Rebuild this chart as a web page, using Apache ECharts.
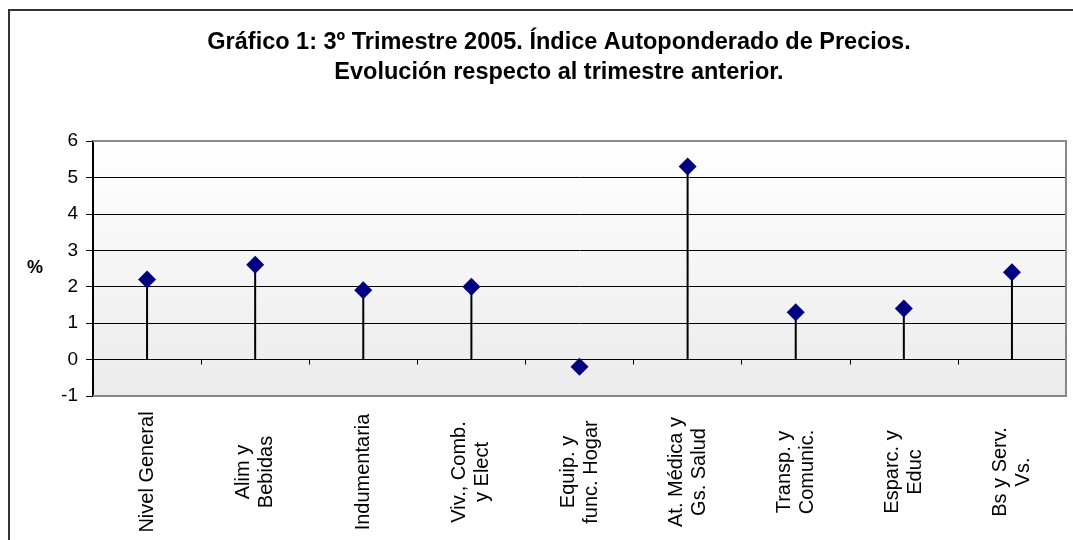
<!DOCTYPE html>
<html>
<head>
<meta charset="utf-8">
<script src="https://cdn.jsdelivr.net/npm/echarts@6/dist/echarts.min.js"></script>
<style>
  html, body { margin: 0; padding: 0; background: #fff; }
  #chart { width: 1073px; height: 540px; }
</style>
</head>
<body>
<div id="chart"></div>
<script>
// rubros del indice
var categories = [
    'Nivel General',
    'Alim y\nBebidas',
    'Indumentaria',
    'Viv., Comb.\ny Elect',
    'Equip. y\nfunc. Hogar',
    'At. Médica y\nGs. Salud',
    'Transp. y\nComunic.',
    'Esparc. y\nEduc',
    'Bs y Serv.\nVs.'
];
// variacion % respecto al trimestre anterior
var values = [2.2, 2.6, 1.9, 2.0, -0.2, 5.3, 1.3, 1.4, 2.4];

var titleLines = [
    'Gráfico 1: 3º Trimestre 2005. Índice Autoponderado de Precios.',
    'Evolución respecto al trimestre anterior.'
];

var font = 'Arial, "Liberation Sans", sans-serif';

var chart = echarts.init(document.getElementById('chart'));

var option = {
    animation: false,
    backgroundColor: '#fff',
    graphic: [
        {
            type: 'rect',
            shape: {x: 9, y: 10, width: 1110, height: 600},
            style: {fill: 'none', stroke: '#333', lineWidth: 2},
            silent: true
        },
        {
            // borde gris del area de trazado (arriba, derecha, abajo)
            type: 'polyline',
            shape: {points: [[93, 141], [1066, 141], [1066, 396], [93, 396]]},
            style: {fill: 'none', stroke: '#888', lineWidth: 2},
            z: 100,
            silent: true
        },
        {
            type: 'text',
            style: {x: 559, y: 43, text: titleLines[0], fill: '#000',
                font: 'bold 23.5px ' + font, textAlign: 'center', textVerticalAlign: 'middle'}
        },
        {
            type: 'text',
            style: {x: 559, y: 73, text: titleLines[1], fill: '#000',
                font: 'bold 23.5px ' + font, textAlign: 'center', textVerticalAlign: 'middle'}
        }
    ],
    grid: {
        left: 93, right: 7, top: 141, bottom: 144,
        show: true,
        borderWidth: 0,
        backgroundColor: {
            type: 'linear', x: 0, y: 0, x2: 0, y2: 1,
            colorStops: [{offset: 0, color: '#ffffff'}, {offset: 1, color: '#ebebeb'}]
        }
    },
    xAxis: [
        {
            // etiquetas abajo
            type: 'category',
            data: categories,
            position: 'bottom',
            axisLine: {show: false, onZero: false},
            axisTick: {show: false},
            splitLine: {show: false},
            axisLabel: {
                rotate: 90,
                align: 'center',
                verticalAlign: 'middle',
                margin: 76,
                interval: 0,
                color: '#000',
                fontFamily: font,
                fontSize: 20,
                lineHeight: 23
            }
        },
        {
            // linea en cero
            type: 'category',
            data: categories,
            position: 'bottom',
            axisLine: {show: true, onZero: true, lineStyle: {color: '#000', width: 1}},
            axisTick: {show: true, length: 5, lineStyle: {color: '#000'}},
            axisLabel: {show: false},
            splitLine: {show: false}
        }
    ],
    yAxis: {
        type: 'value',
        min: -1,
        max: 6,
        interval: 1,
        name: '%',
        nameLocation: 'middle',
        nameRotate: 0,
        nameGap: 50,
        nameTextStyle: {color: '#000', fontFamily: font, fontSize: 18, fontWeight: 'bold'},
        axisLine: {show: true, lineStyle: {color: '#000', width: 2}},
        axisTick: {show: true, length: 7, lineStyle: {color: '#000'}},
        axisLabel: {color: '#000', fontFamily: font, fontSize: 19, margin: 15},
        splitLine: {show: true, lineStyle: {color: '#000', width: 1}}
    },
    series: [
        {
            type: 'bar',
            data: values,
            barWidth: 2,
            itemStyle: {color: '#000'},
            silent: true
        },
        {
            type: 'scatter',
            data: values,
            symbol: 'diamond',
            symbolSize: 18,
            itemStyle: {color: '#000080', opacity: 1},
            z: 5
        }
    ]
};

chart.setOption(option);
</script>
</body>
</html>
